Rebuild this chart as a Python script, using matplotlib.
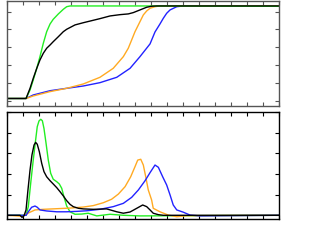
import numpy as np
import matplotlib
matplotlib.use("Agg")
import matplotlib.pyplot as plt

# top panel: cumulative curves (percent)
green_cum_x = [0, 1.19, 1.44, 1.64, 1.86, 2.06, 2.27, 2.48, 2.69, 2.89, 3.21, 3.52, 3.73, 3.94, 8.94, 17]
green_cum_y = [0, 0, 9.2, 20.0, 32.6, 45.2, 59.7, 72.2, 80.5, 85.6, 91.4, 96.4, 99.2, 100, 100, 99.6]

black_cum_x = [0, 1.19, 1.44, 1.64, 1.86, 2.06, 2.27, 2.48, 2.69, 2.89, 3.21, 3.52, 3.73, 4.25, 4.77,
               5.29, 5.81, 6.44, 7.06, 7.58, 7.89, 8.31, 8.73, 9.04, 9.36, 17]
black_cum_y = [0, 0, 11.0, 21.8, 32.6, 41.6, 48.9, 54.3, 57.8, 61.4, 66.8, 72.2, 74.8, 79.5, 81.9,
               84.1, 86.3, 89.2, 90.6, 91.4, 92.8, 95.7, 98.6, 99.7, 100, 100]

orange_cum_x = [0, 1.19, 1.64, 2.69, 3.73, 4.77, 5.81, 6.64, 7.27, 7.58, 7.79, 8.0, 8.21, 8.52, 8.73,
                8.94, 9.25, 9.56, 17]
orange_cum_y = [0, 0, 2.7, 7.4, 11.0, 15.7, 22.9, 32.6, 45.2, 54.3, 63.2, 72.2, 79.5, 90.3, 94.6,
                97.5, 99.2, 100, 100]

blue_cum_x = [0, 1.19, 1.64, 2.69, 3.73, 4.77, 5.81, 6.86, 7.69, 8.31, 8.94, 9.25, 9.56, 9.77, 9.98,
              10.19, 10.61, 11.02, 17]
blue_cum_y = [0, 0, 3.8, 8.4, 11.0, 13.5, 17.1, 22.9, 32.6, 45.2, 59.0, 71.9, 80.5, 86.7, 92.1,
              95.7, 99.2, 100, 100]

# bottom panel: rate curves
green_x = [0, 1.19, 1.33, 1.48, 1.64, 1.79, 1.89, 2.0, 2.11, 2.21, 2.31, 2.44, 2.58, 2.73, 2.89, 3.11,
           3.27, 3.42, 3.56, 3.73, 3.94, 4.25, 4.67, 5.08, 5.61, 6.44, 7.27, 8.31, 17]
green_y = [0, 0, 0.42, 1.55, 2.68, 3.66, 4.30, 4.58, 4.66, 4.59, 4.22, 3.50, 2.68, 2.04, 1.75, 1.63,
           1.52, 1.31, 0.90, 0.45, 0.17, 0.05, 0.06, 0.10, -0.03, 0.05, 0, -0.03, 0]

black_x = [0, 0.81, 0.94, 1.06, 1.19, 1.31, 1.44, 1.56, 1.69, 1.79, 1.89, 2.02, 2.17, 2.31, 2.48, 2.69,
           2.89, 3.11, 3.31, 3.52, 3.73, 3.94, 4.14, 4.46, 4.77, 5.39, 6.23, 6.86, 7.27, 7.69, 8.11,
           8.48, 8.73, 8.94, 9.14, 9.46, 9.77, 17]
black_y = [0, 0, -0.10, -0.03, 0.26, 1.23, 2.20, 2.93, 3.41, 3.54, 3.45, 3.09, 2.52, 2.12, 1.87, 1.68,
           1.52, 1.34, 1.15, 0.94, 0.71, 0.53, 0.42, 0.34, 0.31, 0.29, 0.31, 0.17, 0.10, 0.16, 0.34,
           0.50, 0.42, 0.26, 0.10, 0.03, 0, 0]

blue_x = [0, 1.19, 1.33, 1.54, 1.75, 1.89, 2.06, 2.48, 3.11, 3.73, 4.36, 4.98, 5.81, 6.64, 7.27, 7.79,
          8.21, 8.63, 8.94, 9.25, 9.46, 9.73, 9.98, 10.19, 10.39, 10.61, 11.02, 11.44, 12.06, 17]
blue_y = [0, 0, 0.17, 0.39, 0.45, 0.39, 0.26, 0.21, 0.17, 0.17, 0.19, 0.22, 0.29, 0.42, 0.58, 0.87,
          1.23, 1.68, 2.07, 2.44, 2.33, 1.87, 1.47, 0.99, 0.50, 0.26, 0.15, 0.01, -0.03, 0]

orange_x = [0, 0.94, 1.19, 1.44, 1.75, 2.27, 3.11, 3.94, 4.77, 5.39, 6.02, 6.54, 6.96, 7.38, 7.73, 8.0,
            8.17, 8.36, 8.52, 8.67, 8.83, 9.04, 9.14, 9.56, 10.08, 10.61, 11.23, 17]
orange_y = [0, -0.05, 0.05, 0.15, 0.26, 0.29, 0.32, 0.35, 0.40, 0.47, 0.61, 0.78, 1.03, 1.39, 1.87, 2.36,
            2.68, 2.72, 2.44, 1.87, 1.23, 0.74, 0.34, 0.17, 0.01, -0.07, -0.02, 0]

col_green = "#22ee22"
col_orange = "#ffaa22"
col_blue = "#2222ff"
col_black = "black"

fig = plt.figure(figsize=(3.13, 2.5), dpi=100)
ax1 = fig.add_axes([7 / 313, 1 - 105.7 / 250, 272 / 313, 105.2 / 250])
ax2 = fig.add_axes([7 / 313, 1 - 219 / 250, 272 / 313, 106.7 / 250])

lw = 1.0
ax1.plot(blue_cum_x, blue_cum_y, color=col_blue, lw=lw)
ax1.plot(orange_cum_x, orange_cum_y, color=col_orange, lw=lw)
ax1.plot(green_cum_x, green_cum_y, color=col_green, lw=lw)
ax1.plot(black_cum_x, black_cum_y, color=col_black, lw=lw)

ax2.plot(green_x, green_y, color=col_green, lw=lw)
ax2.plot(orange_x, orange_y, color=col_orange, lw=lw)
ax2.plot(blue_x, blue_y, color=col_blue, lw=lw)
ax2.plot(black_x, black_y, color=col_black, lw=lw)

ax1.set_xlim(0, 17)
ax1.set_ylim(-7.8, 105.9)
ax1.set_yticks([-2.2 + 19.2 * k for k in range(6)])
ax2.set_xlim(0, 17)
ax2.set_ylim(-0.18, 5.0)
ax2.set_yticks(range(6))

for ax, ec in ((ax1, "#555555"), (ax2, "black")):
    ax.set_xticks(range(18))
    ax.tick_params(direction="in", length=3, width=0.8, top=True, right=True,
                   labelbottom=False, labelleft=False, colors=ec)
    for s in ax.spines.values():
        s.set_color(ec)
        s.set_linewidth(1.0)

fig.savefig("out.png", dpi=100)
